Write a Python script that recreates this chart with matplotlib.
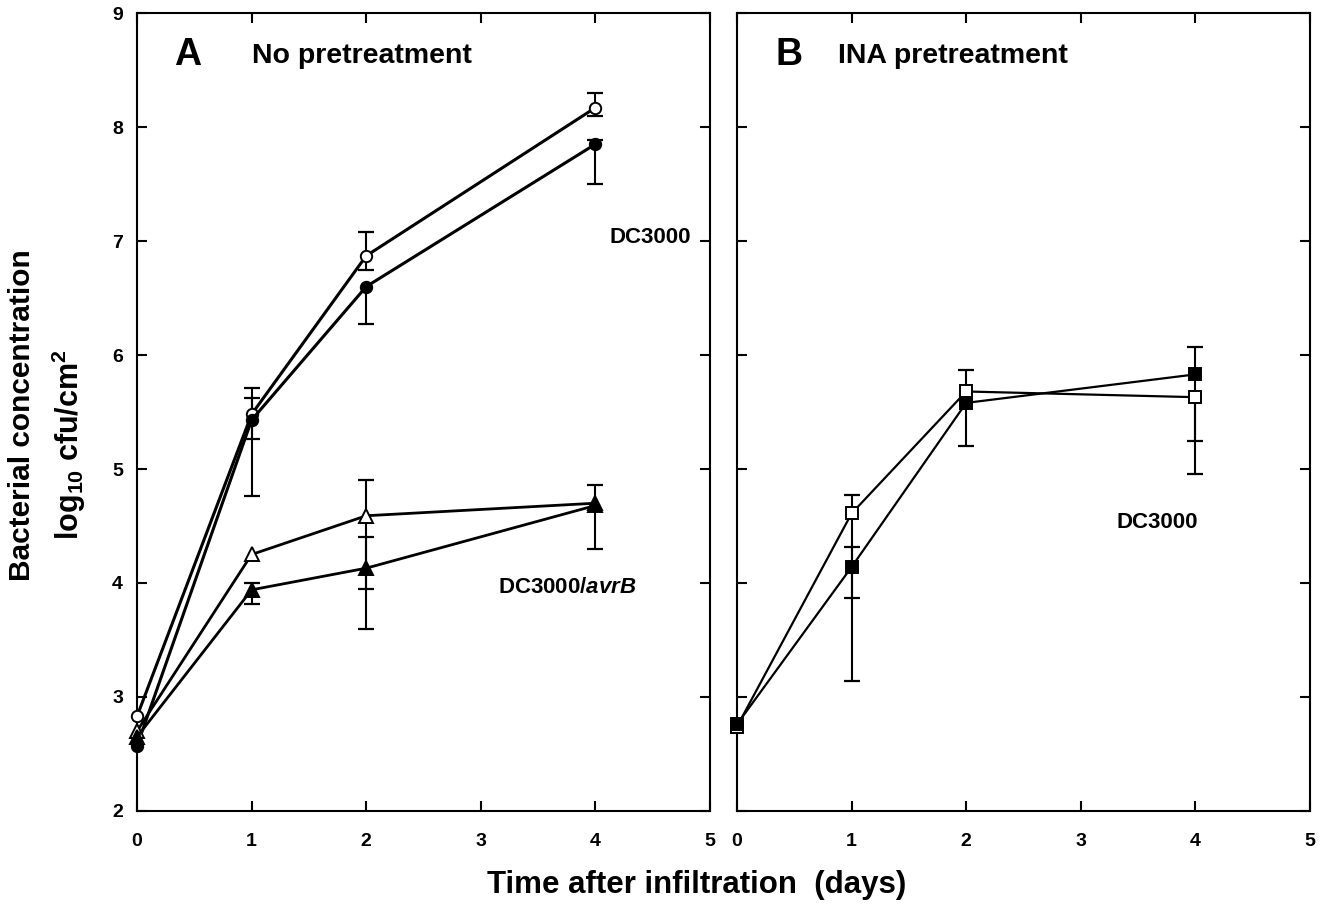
import numpy as np
import matplotlib
matplotlib.use("Agg")
import matplotlib.pyplot as plt

plt.rcParams['font.family'] = ['Liberation Sans', 'DejaVu Sans']
plt.rcParams['font.weight'] = 'bold'
plt.rcParams['mathtext.fontset'] = 'custom'
plt.rcParams['mathtext.rm'] = 'Liberation Sans:bold'
plt.rcParams['mathtext.it'] = 'Liberation Sans:bold:italic'
plt.rcParams['mathtext.bf'] = 'Liberation Sans:bold'

nan = np.nan
days = [0, 1, 2, 4]

# panel A, no pretreatment
dc_open_y = [2.83, 5.48, 6.87, 8.17]
dc_open_lo = [nan, 5.26, 6.75, 8.10]
dc_open_hi = [nan, 5.71, 7.08, 8.30]
dc_fill_y = [2.57, 5.43, 6.60, 7.85]
dc_fill_lo = [nan, 4.76, 6.27, 7.50]
dc_fill_hi = [nan, 5.62, nan, 7.89]
avr_open_y = [2.70, 4.25, 4.59, 4.70]
avr_open_lo = [nan, nan, 3.95, 4.30]
avr_open_hi = [nan, nan, 4.90, 4.86]
avr_fill_y = [2.65, 3.94, 4.13, 4.68]
avr_fill_lo = [nan, 3.82, 3.60, nan]
avr_fill_hi = [nan, 4.00, 4.40, nan]

# panel B, INA pretreatment
ina_open_y = [2.74, 4.61, 5.68, 5.63]
ina_open_lo = [nan, 3.87, nan, 4.96]
ina_open_hi = [nan, 4.77, 5.87, nan]
ina_fill_y = [2.76, 4.14, 5.58, 5.83]
ina_fill_lo = [nan, 3.14, 5.20, 5.25]
ina_fill_hi = [nan, 4.32, nan, 6.07]

xticks = [0, 1, 2, 3, 4, 5]
yticks = [2, 3, 4, 5, 6, 7, 8, 9]


def series(ax, y, lo, hi, marker, face, ms, lw):
    y = np.array(y)
    lo = np.array(lo)
    hi = np.array(hi)
    lo_err = np.nan_to_num(y - lo)
    hi_err = np.nan_to_num(hi - y)
    ax.errorbar(days, y, yerr=[lo_err, hi_err], fmt='none', ecolor='black',
                elinewidth=1.5, capsize=0, zorder=2, clip_on=False)
    ax.plot(days, lo, ls='none', marker='_', ms=12, mew=1.6, color='black', zorder=2)
    ax.plot(days, hi, ls='none', marker='_', ms=12, mew=1.6, color='black', zorder=2)
    ax.plot(days, y, color='black', lw=lw, marker=marker, ms=ms, mfc=face,
            mec='black', mew=1.4, zorder=3, clip_on=False)


def style(ax, left_labels):
    ax.set_xlim(0, 5)
    ax.set_ylim(2, 9)
    ax.set_xticks(xticks)
    ax.set_yticks(yticks)
    ax.tick_params(direction='in', length=7, width=1.5, top=True, right=True,
                   labelsize=14)
    ax.tick_params(axis='x', pad=16)
    ax.tick_params(axis='y', pad=10, labelleft=left_labels)
    for s in ax.spines.values():
        s.set_linewidth(1.5)


fig = plt.figure(figsize=(13.25, 9.10), dpi=100)
axA = fig.add_axes([0.1034, 0.1088, 0.4325, 0.8769])
axB = fig.add_axes([0.5562, 0.1088, 0.4325, 0.8769])

series(axA, dc_open_y, dc_open_lo, dc_open_hi, 'o', 'white', 8.2, 2.2)
series(axA, dc_fill_y, dc_fill_lo, dc_fill_hi, 'o', 'black', 8.2, 2.2)
series(axA, avr_open_y, avr_open_lo, avr_open_hi, '^', 'white', 9.5, 2.0)
series(axA, avr_fill_y, avr_fill_lo, avr_fill_hi, '^', 'black', 9.5, 2.0)
style(axA, True)

series(axB, ina_open_y, ina_open_lo, ina_open_hi, 's', 'white', 9, 1.6)
series(axB, ina_fill_y, ina_fill_lo, ina_fill_hi, 's', 'black', 9, 1.6)
style(axB, False)

axA.text(0.089, 0.947, 'A', transform=axA.transAxes, fontsize=27,
         ha='center', va='center')
axA.text(0.20, 0.946, 'No pretreatment', transform=axA.transAxes, fontsize=20.5,
         ha='left', va='center')
axB.text(0.091, 0.947, 'B', transform=axB.transAxes, fontsize=27,
         ha='center', va='center')
axB.text(0.176, 0.946, 'INA pretreatment', transform=axB.transAxes, fontsize=20.5,
         ha='left', va='center')

axA.text(4.48, 7.03, 'DC3000', fontsize=16, ha='center', va='center')
axA.text(3.75, 3.96, r'DC3000/$\mathit{avrB}$', fontsize=16, ha='center', va='center')
axB.text(3.67, 4.53, 'DC3000', fontsize=16, ha='center', va='center')

fig.text(0.526, 0.027, 'Time after infiltration  (days)', fontsize=22.5,
         ha='center', va='center')
fig.text(0.0166, 0.544, 'Bacterial concentration', fontsize=21.5,
         rotation=90, ha='center', va='center')
fig.text(0.052, 0.511, r'log$_{\mathrm{10}}$ cfu/cm$^{\mathrm{2}}$', fontsize=22,
         rotation=90, ha='center', va='center')

fig.savefig('out.png', dpi=100)
